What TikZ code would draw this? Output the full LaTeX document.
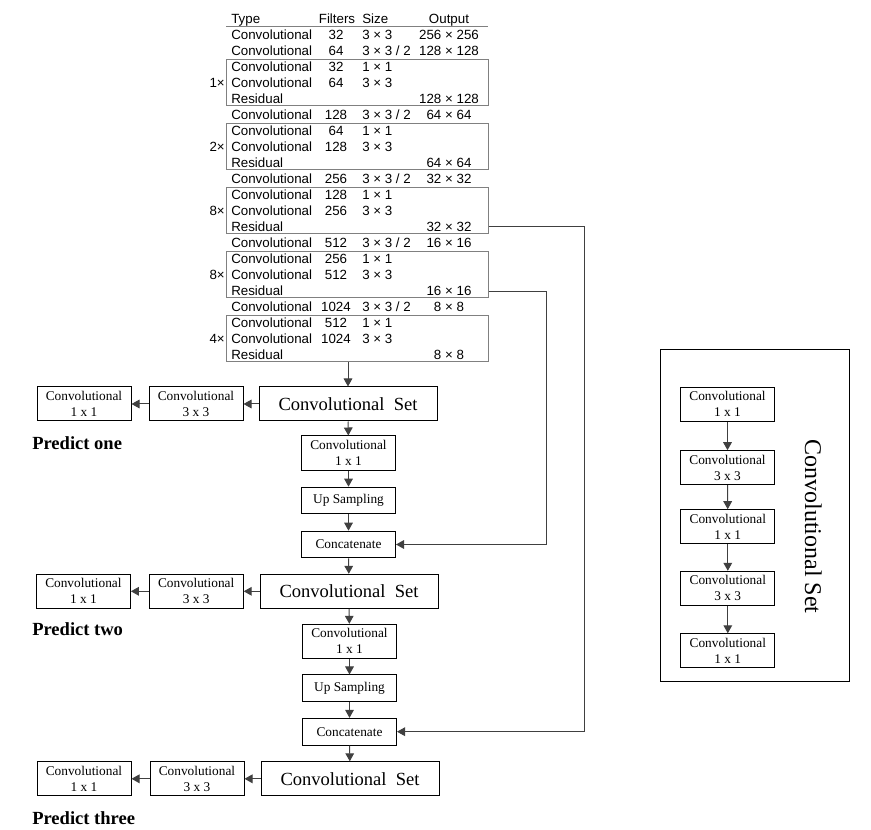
\documentclass[tikz,border=0pt]{standalone}
\usepackage{fontspec}
\setmainfont{Liberation Serif}
\newfontfamily\tabfont{Liberation Sans}
\usetikzlibrary{arrows.meta}

\definecolor{wiregray}{RGB}{64,64,64}
\definecolor{boxgray}{RGB}{128,128,128}

\tikzset{
  unit/.style={draw, line width=0.75pt, minimum width=70.5pt, minimum height=25.5pt, inner sep=0pt, align=center, font=\fontsize{10}{12}\selectfont},
  convset/.style={unit, minimum width=133.5pt, font=\fontsize{13.9}{16}\selectfont},
  flat/.style={unit, minimum height=20pt},
  tabbox/.style={draw=boxgray, line width=0.75pt, minimum width=196.5pt, minimum height=35pt, inner sep=0pt},
  cell/.style={inner sep=0pt, text height=7pt, text depth=2pt, font=\tabfont\fontsize{10}{11}\selectfont},
  predict/.style={anchor=west, inner sep=0pt, font=\bfseries\fontsize{13.9}{16}\selectfont},
  wire/.style={draw=wiregray, line width=0.75pt},
  arr/.style={wire, -{Triangle[length=6pt,width=6.5pt]}},
}

\begin{document}
\begin{tikzpicture}[x=0.75pt,y=0.75pt,yscale=-1,xscale=1]
\useasboundingbox (0,0) rectangle (871,830);

% Darknet-53 table: header
\node[cell, anchor=west] (hType) at (231,20) {Type};
\node[cell] (hFilters) at (337,20) {Filters};
\node[cell, anchor=west] (hSize) at (362,20) {Size};
\node[cell] (hOutput) at (449,20) {Output};
\draw[draw=boxgray, line width=0.75pt] (226,26.5) -- (488,26.5);

% Darknet-53 table: rows
\foreach \t/\f/\s/\o [count=\i] in {
  Convolutional/32/{3 × 3}/{256 × 256},
  Convolutional/64/{3 × 3 / 2}/{128 × 128},
  Convolutional/32/{1 × 1}/{},
  Convolutional/64/{3 × 3}/{},
  Residual/{}/{}/{128 × 128},
  Convolutional/128/{3 × 3 / 2}/{64 × 64},
  Convolutional/64/{1 × 1}/{},
  Convolutional/128/{3 × 3}/{},
  Residual/{}/{}/{64 × 64},
  Convolutional/256/{3 × 3 / 2}/{32 × 32},
  Convolutional/128/{1 × 1}/{},
  Convolutional/256/{3 × 3}/{},
  Residual/{}/{}/{32 × 32},
  Convolutional/512/{3 × 3 / 2}/{16 × 16},
  Convolutional/256/{1 × 1}/{},
  Convolutional/512/{3 × 3}/{},
  Residual/{}/{}/{16 × 16},
  Convolutional/1024/{3 × 3 / 2}/{8 × 8},
  Convolutional/512/{1 × 1}/{},
  Convolutional/1024/{3 × 3}/{},
  Residual/{}/{}/{8 × 8}}{
  \node[cell, anchor=west] (t\i) at (231,20.5+16*\i) {\t};
  \node[cell] (f\i) at (336,20.5+16*\i) {\f};
  \node[cell, anchor=west] (s\i) at (362,20.5+16*\i) {\s};
  \node[cell] (o\i) at (449,20.5+16*\i) {\o};
}

% residual blocks and repeat counts
\foreach \r/\n [count=\k] in {4/1,8/2,12/8,16/8,20/4}{
  \node[tabbox] (blk\k) at (357,18.5+16*\r) {};
  \node[cell, anchor=east] (rep\k) at (225,20.5+16*\r) {\n×};
}

% Scale one
\node[convset] (cset1) at (348,404) {Convolutional~~Set};
\node[unit] (cka) at (196,404) {Convolutional\\3 x 3};
\node[unit] (cpa) at (84,404) {Convolutional\\1 x 1};
\node[predict] (pone) at (32,443) {Predict one};
\node[unit] (cva) at (348.5,453) {Convolutional\\1 x 1};
\node[flat] (upa) at (348.5,500.5) {Up Sampling};
\node[flat] (cata) at (348.5,544.5) {Concatenate};

% Scale two
\node[convset] (cset2) at (349,591.3) {Convolutional~~Set};
\node[unit] (ckb) at (196.2,591.3) {Convolutional\\3 x 3};
\node[unit] (cpb) at (83.4,591.3) {Convolutional\\1 x 1};
\node[predict] (ptwo) at (32,629) {Predict two};
\node[unit] (cvb) at (349.5,641.3) {Convolutional\\1 x 1};
\node[flat] (upb) at (349.5,688.3) {Up Sampling};
\node[flat] (catb) at (349.5,731.7) {Concatenate};

% Scale three
\node[convset] (cset3) at (350,778.8) {Convolutional~~Set};
\node[unit] (ckc) at (197,778.8) {Convolutional\\3 x 3};
\node[unit] (cpc) at (84,778.8) {Convolutional\\1 x 1};
\node[predict] (pthree) at (32,818) {Predict three};

% Connectors
\draw[arr] (blk5.south -| cset1.north) -- (cset1.north);
\draw[arr] (cset1) -- (cka);
\draw[arr] (cka) -- (cpa);
\draw[arr] (cset1) -- (cva);
\draw[arr] (cva) -- (upa);
\draw[arr] (upa) -- (cata);
\draw[arr] (cata) -- (cset2);
\draw[arr] (cset2) -- (ckb);
\draw[arr] (ckb) -- (cpb);
\draw[arr] (cset2) -- (cvb);
\draw[arr] (cvb) -- (upb);
\draw[arr] (upb) -- (catb);
\draw[arr] (catb) -- (cset3);
\draw[arr] (cset3) -- (ckc);
\draw[arr] (ckc) -- (cpc);

% Skip routes from the residual blocks
\coordinate (jone) at (546,292);
\coordinate (jtwo) at (584,227);
\draw[arr] (blk4.east |- jone) -- (jone) |- (cata.east);
\draw[arr] (blk3.east |- jtwo) -- (jtwo) |- (catb.east);

% Convolutional Set detail
\node[draw, line width=0.75pt, minimum width=141.5pt, minimum height=249.3pt, inner sep=0pt] (panel) at (755,515.5) {};
\node[unit] (sa) at (727.5,404.3) {Convolutional\\1 x 1};
\node[unit] (sb) at (727.5,467.7) {Convolutional\\3 x 3};
\node[unit] (sc) at (727.8,526.7) {Convolutional\\1 x 1};
\node[unit] (sd) at (727.8,588.3) {Convolutional\\3 x 3};
\node[unit] (se) at (727.8,650.8) {Convolutional\\1 x 1};
\node[rotate=-90, inner sep=0pt, font=\fontsize{18}{20}\selectfont] (settitle) at (813.3,526.5) {Convolutional Set};
\draw[arr] (sa) -- (sb);
\draw[arr] (sb) -- (sc);
\draw[arr] (sc) -- (sd);
\draw[arr] (sd) -- (se);

\end{tikzpicture}
\end{document}
